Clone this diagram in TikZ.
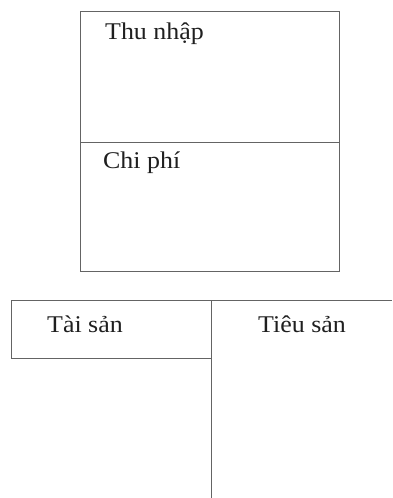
\documentclass[tikz,border=0pt]{standalone}
\usepackage{fontspec}
\setmainfont[FakeStretch=1.08]{Liberation Serif}
\usetikzlibrary{positioning,calc}
\definecolor{ink}{RGB}{100,100,100}
\tikzset{
  every node/.style={font=\fontsize{24}{28}\selectfont, text=black!88},
  cell/.style={draw=ink, line width=0.8pt, inner sep=0pt, outer sep=0pt, anchor=north west},
  rule/.style={draw=ink, line width=0.8pt},
  lab/.style={anchor=base west, inner sep=0pt},
}

\begin{document}
\begin{tikzpicture}[x=1pt,y=-1pt]
\useasboundingbox (0,0) rectangle (392,498);

% ---------------------------------------------------------------- income / expense
\node[cell, minimum width=259pt, minimum height=131pt] (inc) at (80,11) {};
\node[cell, minimum width=259pt, minimum height=129pt] (exp) at (inc.south west) {};
\node[lab] (incl) at ($(inc.north west)+(25,28)$) {Thu nhập};
\node[lab] (expl) at ($(exp.north west)+(23,26)$) {Chi phí};

% ---------------------------------------------------------------- assets / liabilities
\node[cell, minimum width=200pt, minimum height=58pt] (ast) at (11,300) {};
\coordinate (top) at (392,300);
\coordinate (foot) at (211,498);
\draw[rule] (ast.north east) -- (top);
\draw[rule] (ast.north east) -- (foot);
\node[lab] (astl) at ($(ast.north west)+(36,32)$) {Tài sản};
\node[lab] (liab) at ($(ast.north east)+(47,32)$) {Tiêu sản};

\end{tikzpicture}
\end{document}
